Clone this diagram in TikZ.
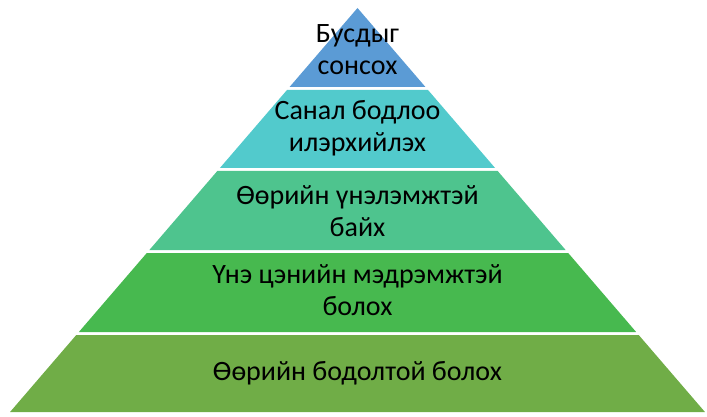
\documentclass[tikz,border=0pt]{standalone}
\usepackage{fontspec}
\setmainfont{Carlito}
\usetikzlibrary{calc}
\definecolor{tierone}{HTML}{5B9BD5}
\definecolor{tiertwo}{HTML}{52CACC}
\definecolor{tierthree}{HTML}{4EC48E}
\definecolor{tierfour}{HTML}{47B94F}
\definecolor{tierfive}{HTML}{70AD47}
\tikzset{tiertext/.style={align=center, text=black, font=\fontsize{28}{32}\selectfont}}
\def\tier[#1](#2:#3){\fill[#1] ({357.5-0.86*(#2-8)}, #2) -- ({357.5+0.86*(#2-8)}, #2) -- ({357.5+0.86*(#3-8)}, #3) -- ({357.5-0.86*(#3-8)}, #3) -- cycle;}

\begin{document}
\begin{tikzpicture}[x=1pt, y=-1pt]
			%%%%% START %%%%%
			\useasboundingbox (0, 0) rectangle (707, 417);
			
			\tier[tierone](8:87)
			\tier[tiertwo](90:168)
			\tier[tierthree](171:250)
			\tier[tierfour](253:332)
			\tier[tierfive](335:412)
			
			\node[tiertext] (listen) at (357.5, 50) {Бусдыг\\сонсох};
			\node[tiertext] (express) at (357.5, 128) {Санал бодлоо\\илэрхийлэх};
			\node[tiertext] (selfworth) at (357.5, 211) {Өөрийн үнэлэмжтэй\\байх};
			\node[tiertext] (values) at (357.5, 290) {Үнэ цэнийн мэдрэмжтэй\\болох};
			\node[tiertext] (ownmind) at (357.5, 373) {Өөрийн бодолтой болох};
			
			%%%%% END %%%%%
\end{tikzpicture}
\end{document}
